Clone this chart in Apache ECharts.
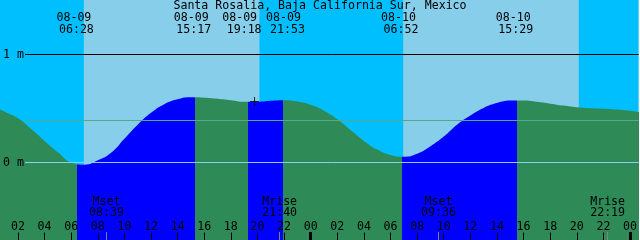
<!DOCTYPE html>
<html><head><meta charset="utf-8">
<script src="https://cdn.jsdelivr.net/npm/echarts@6/dist/echarts.min.js"></script>
<style>html,body{margin:0;padding:0;background:#fff}#c{width:640px;height:240px}</style>
</head><body><div id="c"></div>
<script>
// ---- data (hours counted from 08-09 00:00 local) ----
const chartTitle = 'Santa Rosalia, Baja California Sur, Mexico';
const tideHours  = [0,1,2,3,4,5,6,7,8,9,10,11,12,13,14,15,16,17,18,19,20,21,22,23,24,25,26,27,28,29,30,31,32,33,34,35,36,37,38,39,40,41,42,43,44,45,46,47,48,49];
const tideLevels = [0.53,0.47,0.41,0.31,0.20,0.095,0.0,-0.02,0.02,0.09,0.22,0.35,0.46,0.54,0.585,0.603,0.600,0.590,0.577,0.563,0.563,0.572,0.577,0.565,0.535,0.48,0.40,0.30,0.20,0.12,0.07,0.053,0.08,0.15,0.24,0.35,0.435,0.505,0.55,0.573,0.575,0.562,0.545,0.527,0.512,0.503,0.498,0.49,0.478,0.46];
const eventHours = [6.467,15.283,19.3,21.883,30.867,39.483];
const eventKinds = ['low','high','low','high','low','high'];
const eventDates = ['08-09','08-09','08-09','08-09','08-10','08-10'];
const eventTimes = ['06:28','15:17','19:18','21:53','06:52','15:29'];
const moonHours = [8.65,21.667,33.6,46.317];
const moonKinds = ['Mset','Mrise','Mset','Mrise'];
const moonTimes = ['08:39','21:40','09:36','22:19'];
const sunriseHours = [6.95,30.95];
const sunsetHours  = [20.15,44.15];
const hourTicks = [2,4,6,8,10,12,14,16,18,20,22,24,26,28,30,32,34,36,38,40,42,44,46,48];
const midnightTicks = [24,48];
const levelTicks = [0,1];
const meanLevel = 0.389;
const nowMark = [19.78,0.565];

// ---- styling / layout ----
const FONT = 'DejaVu Sans Mono', FS = 11.6;
const X_MIN = 0.65, X_MAX = 48.65;
const Y_MIN = -0.7176, Y_MAX = 1.5046;
const PX_PER_M = 240 / (Y_MAX - Y_MIN);
const HOUR_TICK_PX = 7.5;
const LINE_START = 2.53;
const NIGHT = '#00BFFF', DAY = '#87CEEB', FLOOD = '#0000FF', EBB = '#2E8B57';
// label nudge style per event label (n = normal, l = pushed left, r = pushed right)
const eventLabelNudge = ['n','n','l','r','n','n'];

const pieces = [];
let prev = null;
eventHours.forEach((h,i)=>{
  const color = eventKinds[i]==='low' ? EBB : FLOOD;
  const p = {color}; if(prev!==null) p.gte = prev; p.lt = h; pieces.push(p); prev = h;
});
pieces.push({gte: prev, color: eventKinds[eventKinds.length-1]==='high' ? EBB : FLOOD});

const txt = {fontFamily: FONT, fontSize: FS, color: '#000'};
const rt = (pad) => Object.assign({padding:pad, lineHeight:12}, txt);
const base = {type:'value', min:X_MIN, max:X_MAX, z:20, splitLine:{show:false}, axisLine:{show:false, onZero:false}};
const pad2 = h => String(h%24).padStart(2,'0');
const tickAxis = (values, len, color, width) => Object.assign({}, base, {position:'bottom',
  axisTick:{show:true, inside:true, length:len, customValues:values, lineStyle:{color, width}},
  axisLabel:{show:false}});

const hourTickLines = hourTicks.filter(h=>h%24!==0).map(h=>[
  {coord:[h, Y_MIN], lineStyle:{color:'#000', width:1, type:'solid'}},
  {coord:[h, Y_MIN + HOUR_TICK_PX / PX_PER_M]}
]);

const chart = echarts.init(document.getElementById('c'), null, {renderer:'canvas'});
chart.setOption({
  animation:false,
  title:{text:chartTitle, left:'center', top:0, padding:0, z:20, textStyle:Object.assign({fontWeight:'normal'},txt)},
  grid:{left:0,right:0,top:0,bottom:0,show:true,backgroundColor:NIGHT,borderWidth:0},
  visualMap:{type:'piecewise', show:false, dimension:0, seriesIndex:0, pieces},
  xAxis:[
    // axis used by the series (no marks of its own)
    Object.assign({}, base, {position:'bottom', axisTick:{show:false}, axisLabel:{show:false}}),
    // hour labels
    Object.assign({}, base, {position:'bottom', axisTick:{show:false},
      axisLabel:Object.assign({show:true, inside:true, margin:7, customValues:hourTicks, formatter:v=>pad2(v)},txt)}),
    // midnight ticks
    tickAxis(midnightTicks, 8, '#000', 3),
    // moon ticks
    tickAxis(moonHours, 8, '#808080', 1),
    // moon rise / set labels
    Object.assign({}, base, {position:'bottom', axisTick:{show:false},
      axisLabel:Object.assign({show:true, inside:true, margin:21, lineHeight:11.5, customValues:moonHours,
        formatter:v=>{const i=moonHours.indexOf(v); return moonKinds[i]+'\n'+moonTimes[i];}},txt)}),
    // tide events at top
    Object.assign({}, base, {position:'top',
      axisTick:{show:false},
      axisLabel:Object.assign({show:true, inside:true, margin:12, lineHeight:12, customValues:eventHours,
        formatter:v=>{const i=eventHours.indexOf(v); const s=eventLabelNudge[i];
          return '{d'+s+'|'+eventDates[i]+'}\n{t'+s+'|'+eventTimes[i]+'}';},
        rich:{
          dn:rt([0,7,0,0]), tn:rt([0,2,0,0]),
          dl:rt([0,17,0,0]), tl:rt([0,8,0,0]),
          dr:rt([0,0,0,2]), tr:rt([0,0,0,10])
        }},txt)})
  ],
  yAxis:{type:'value', min:Y_MIN, max:Y_MAX, z:20, splitLine:{show:false}, axisLine:{show:false, onZero:false}, axisTick:{show:false},
    axisLabel:Object.assign({show:true, inside:true, margin:3, customValues:levelTicks, formatter:v=>v+' m'},txt)},
  series:[
    {type:'line', name:'tide', xAxisIndex:0, data:tideHours.map((h,i)=>[h,tideLevels[i]]),
     smooth:0.5, symbol:'none', lineStyle:{width:0}, areaStyle:{opacity:1, origin:'start'}, z:2,
     markArea:{silent:true, itemStyle:{color:DAY}, data:sunriseHours.map((r,i)=>[{xAxis:r},{xAxis:sunsetHours[i]}])},
     markLine:{silent:true, symbol:'none', label:{show:false}, animation:false,
       data:[
         [{coord:[LINE_START,1], lineStyle:{color:'#000',width:1,type:'solid'}},{coord:[X_MAX,1]}],
         [{coord:[LINE_START,meanLevel], lineStyle:{color:'#55a889',width:1,type:'solid'}},{coord:[X_MAX,meanLevel]}],
         [{coord:[LINE_START,0], lineStyle:{color:'#8ACEF0',width:1,type:'solid'}},{coord:[X_MAX,0]}]
       ].concat(hourTickLines)}},
    {type:'scatter', xAxisIndex:0, data:[nowMark], symbol:'path://M0,5L10,5M5,0L5,10', symbolSize:9,
     itemStyle:{color:'transparent', borderColor:'#000', borderWidth:1}, z:10, silent:true}
  ]
});
</script></body></html>
